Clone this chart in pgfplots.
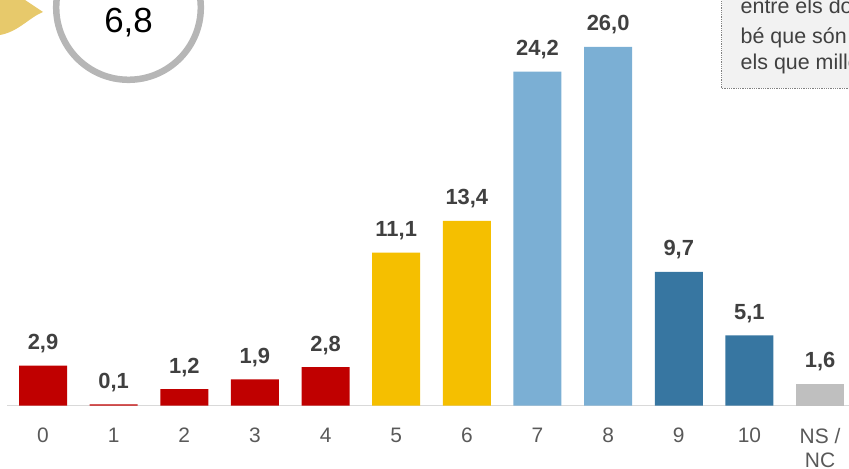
\documentclass[border=0pt]{standalone}
\usepackage{fontspec}
\setmainfont{Liberation Sans}
\usepackage{pgfplots}
\pgfplotsset{compat=1.18}

\definecolor{barred}{HTML}{C00000}
\definecolor{baryellow}{HTML}{F5BF00}
\definecolor{barlight}{HTML}{7BAFD4}
\definecolor{bardark}{HTML}{3776A1}
\definecolor{bargray}{HTML}{BFBFBF}
\definecolor{labeltext}{HTML}{404040}
\definecolor{ticktext}{HTML}{595959}
\definecolor{ringgray}{HTML}{B6B6B6}
\definecolor{pointer}{HTML}{E7C96B}

\begin{document}
\begin{tikzpicture}
\useasboundingbox (0,0) rectangle (849bp,469bp);
\clip (0,0) rectangle (849bp,469bp);

% yellow pointer and the average circle, top left
\fill[pointer] (0,469bp) -- (25bp,469bp) -- (43bp,457bp)
  .. controls (30bp,452bp) and (18bp,437bp) .. (0,434bp) -- cycle;
\draw[ringgray, line width=6.5bp, fill=white] (128.5bp,461.5bp) circle (72.3bp);
\node[anchor=base, inner sep=0pt, font=\fontsize{35}{40}\selectfont]
  at (128.5bp,436bp) {6,8};

% note box, top right
\draw[gray, densely dotted, line width=0.8bp, fill=black!5]
  (721.5bp,380.7bp) rectangle (900bp,500bp);
\begin{scope}[every node/.style={anchor=base west, inner sep=0pt,
    text=labeltext, font=\fontsize{21.5}{26}\selectfont}]
\node at (740.5bp,455bp) {entre els dos};
\node at (740.5bp,425.7bp) {bé que són};
\node at (740.5bp,399bp) {els que millor};
\end{scope}

\begin{axis}[
    at={(7bp,63.3bp)}, anchor=south west,
    scale only axis,
    width=842bp, height=386.4bp,
    xmin=-0.51, xmax=11.41,
    ymin=0, ymax=28,
    ybar, bar width=48bp, bar shift=0pt,
    hide y axis,
    axis x line*=bottom,
    x axis line style={draw=black!15, line width=1.3bp, -},
    major tick length=0pt,
    xtick={0,1,2,3,4,5,6,7,8,9,10,11},
    xticklabels={0,1,2,3,4,5,6,7,8,9,10,{NS /\\NC}},
    xticklabel style={anchor=north, align=center, inner sep=0pt,
        yshift=-22bp, text=ticktext,
        font=\fontsize{21}{25}\selectfont},
    nodes near coords,
    /pgf/number format/.cd, fixed, fixed zerofill, precision=1,
        use comma, assume math mode=true,
    /pgfplots/.cd,
    every node near coord/.append style={anchor=base, yshift=16bp,
        inner sep=0pt, text=labeltext,
        font=\fontsize{22}{26}\selectfont\bfseries},
]
\addplot[fill=barred, draw=none] coordinates {(0,2.9) (1,0.1) (2,1.2) (3,1.9) (4,2.8)};
\addplot[fill=baryellow, draw=none] coordinates {(5,11.1) (6,13.4)};
\addplot[fill=barlight, draw=none] coordinates {(7,24.2) (8,26.0)};
\addplot[fill=bardark, draw=none] coordinates {(9,9.7) (10,5.1)};
\addplot[fill=bargray, draw=none] coordinates {(11,1.6)};
\end{axis}
\end{tikzpicture}
\end{document}
